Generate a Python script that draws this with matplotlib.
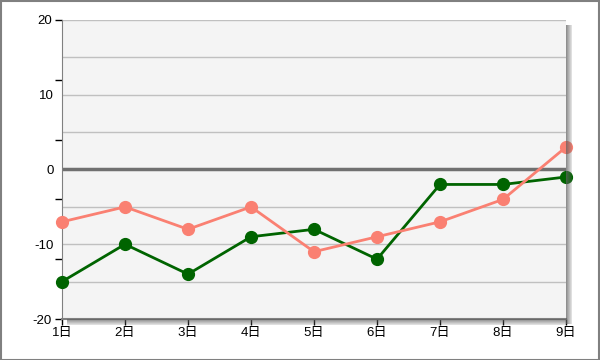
import numpy as np
import matplotlib.pyplot as plt
from matplotlib.patches import Rectangle

plt.rcParams['font.family'] = ['Liberation Sans', 'Noto Sans CJK JP']
plt.rcParams['font.size'] = 9.5

days = ['1日', '2日', '3日', '4日', '5日', '6日', '7日', '8日', '9日']
green_vals = [-15, -10, -14, -9, -8, -12, -2, -2, -1]
salmon_vals = [-7, -5, -8, -5, -11, -9, -7, -4, 3]

W, H = 600, 360
fig = plt.figure(figsize=(W / 100, H / 100), dpi=100)
fig.patch.set_facecolor('white')

# outer border
fig.add_artist(Rectangle((0.5 / W, 0.5 / H), 1 - 1.5 / W, 1 - 1.5 / H,
                         transform=fig.transFigure, fill=False,
                         edgecolor='#808080', lw=1.5))

L, R, T, B = 62, 566, 20, 319
ax = fig.add_axes([L / W, 1 - B / H, (R - L) / W, (B - T) / H])
ax.set_facecolor('#F4F4F4')

# drop shadow right and below plot area
for i in range(6):
    a = 0.7 * (1 - i / 7)
    fig.add_artist(Rectangle(((R + i) / W, 1 - (B + 5) / H), 1 / W, (B - T) / H,
                             transform=fig.transFigure, color='#606060',
                             alpha=a, lw=0))
    fig.add_artist(Rectangle(((L + 5) / W, 1 - (B + i + 1) / H), (R - L - 5) / W, 1 / H,
                             transform=fig.transFigure, color='#606060',
                             alpha=a, lw=0))

x = np.arange(1, len(days) + 1)

for v in [20, 15, 10, 5, -5, -10, -15]:
    ax.axhline(v, color='#C0C0C0', lw=1, zorder=1)
ax.axhline(0, color='#707070', lw=2.5, zorder=1)

ax.plot(x, green_vals, color='#006400', lw=2, marker='o', ms=8.5,
        zorder=3, clip_on=False)
ax.plot(x, salmon_vals, color='#FA8072', lw=2, marker='o', ms=8.5,
        zorder=3, clip_on=False)

ax.set_xlim(1, 9)
ax.set_ylim(-20, 20)
ax.set_xticks(x)
ax.set_xticklabels(days)
ax.tick_params(axis='x', length=4, width=1, pad=2, color='black')

ax.set_yticks([20, 12, 4, -4, -12, -20])
ax.set_yticklabels(['20', '', '', '', '', '-20'])
ax.set_yticks([10, 0, -10], minor=True)
ax.set_yticklabels(['10', '0', '-10'], minor=True)
ax.tick_params(axis='y', which='major', length=5, width=1, pad=2.5, color='black')
ax.tick_params(axis='y', which='minor', length=0, pad=6.1)

for s in ['top', 'right']:
    ax.spines[s].set_visible(False)
ax.spines['left'].set_color('#808080')
ax.spines['bottom'].set_color('#808080')
ax.spines['bottom'].set_linewidth(1.5)

fig.savefig('out.png', dpi=100)
